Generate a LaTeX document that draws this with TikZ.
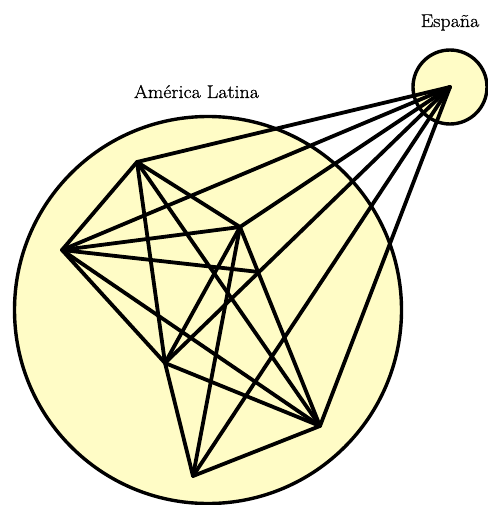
\documentclass[tikz,border=0pt]{standalone}
\usepackage{fontspec}
\setmainfont{Latin Modern Roman}
\newfontfamily\lblfont{Latin Modern Roman}[FakeStretch=1.08,FakeBold=0.8]
\definecolor{paleyellow}{RGB}{255,252,198}
\begin{document}
\begin{tikzpicture}[x=1pt,y=-1pt,
  region/.style={draw=black,line width=3.4pt,fill=paleyellow},
  link/.style={draw=black,line width=3.8pt,line cap=round,line join=round},
  lbl/.style={font=\lblfont\fontsize{18.5}{21}\selectfont,inner sep=0pt,anchor=base}]
\useasboundingbox (0,0) rectangle (487,505);
\path[region] (208,310) circle (193.5);
\path[region] (450,87) circle (37);
\node[lbl] (la) at (196.5,98) {América Latina};
\node[lbl] (es) at (450,27) {España};
\coordinate (A) at (137,162);
\coordinate (B) at (62,250);
\coordinate (C) at (240,227);
\coordinate (D) at (259,272);
\coordinate (E) at (165,363);
\coordinate (F) at (320,426);
\coordinate (G) at (193,476);
\coordinate (S) at (450,87);
\foreach \u/\v in {A/B,A/C,A/E,A/F,A/S,B/C,B/D,B/E,B/F,B/S,C/E,C/F,C/G,C/S,D/E,D/S,E/F,E/G,F/G,F/S,G/S}
  \draw[link] (\u) -- (\v);
\end{tikzpicture}
\end{document}
